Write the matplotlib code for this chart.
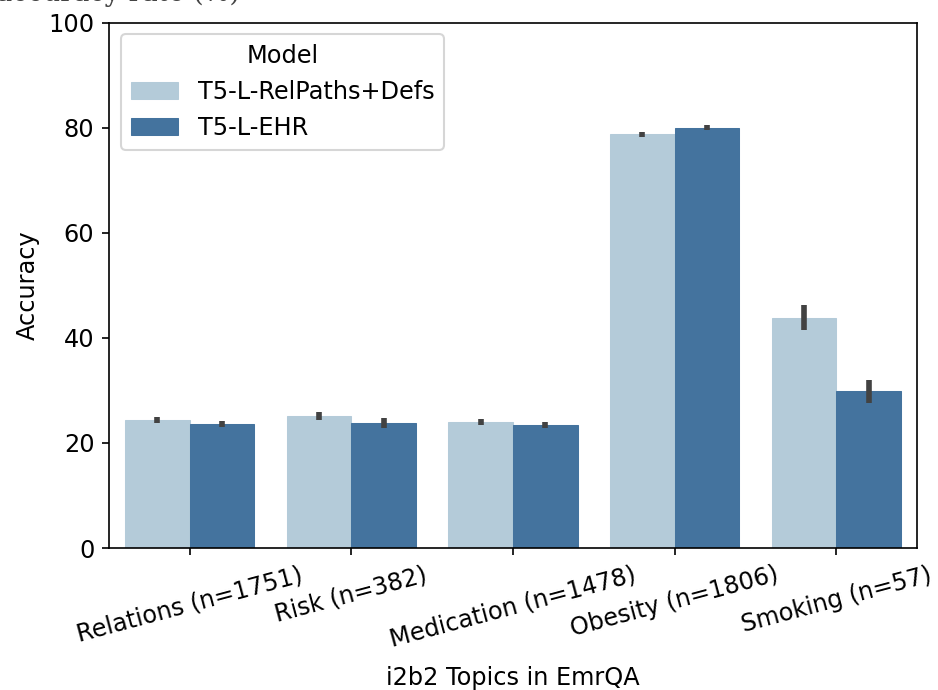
import matplotlib
matplotlib.use("Agg")
import matplotlib.pyplot as plt
import numpy as np

categories = ["Relations (n=1751)", "Risk (n=382)", "Medication (n=1478)", "Obesity (n=1806)", "Smoking (n=57)"]
models = ["T5-L-RelPaths+Defs", "T5-L-EHR"]
means = {
    "T5-L-RelPaths+Defs": [24.3, 25.1, 24.0, 78.7, 43.7],
    "T5-L-EHR": [23.6, 23.8, 23.4, 80.0, 29.8],
}
ci_low = {
    "T5-L-RelPaths+Defs": [23.7, 24.3, 23.5, 78.2, 41.4],
    "T5-L-EHR": [23.1, 22.9, 22.9, 79.5, 27.6],
}
ci_high = {
    "T5-L-RelPaths+Defs": [24.9, 25.9, 24.5, 79.2, 46.2],
    "T5-L-EHR": [24.1, 24.7, 23.9, 80.5, 31.9],
}
colors = ["#b4cbd9", "#44739e"]

FS = 11.5
fig = plt.figure(figsize=(938/150, 690/150), dpi=150)
ax = fig.add_axes([109/938, 1-548/690, (917-109)/938, (548-22.5)/690])

x = np.arange(len(categories))
w = 0.4
for i, m in enumerate(models):
    pos = x - w/2 + i*w
    mv = np.array(means[m])
    lo = mv - np.array(ci_low[m])
    hi = np.array(ci_high[m]) - mv
    ax.bar(pos, mv, width=w, color=colors[i], label=m, edgecolor=colors[i], linewidth=0.5, zorder=2)
    ax.errorbar(pos, mv, yerr=[lo, hi], fmt="none", ecolor="#424242", elinewidth=2.7, capsize=0, zorder=3)

ax.set_xlim(-0.5, len(categories) - 0.5)
ax.set_ylim(0, 100)
ax.set_yticks([0, 20, 40, 60, 80, 100])
ax.set_xticks(x)
ax.set_xticklabels(categories, rotation=15, fontsize=FS)
ax.tick_params(axis="y", labelsize=FS)
ax.set_ylabel("Accuracy", fontsize=FS)
ax.set_xlabel("i2b2 Topics in EmrQA", fontsize=FS, labelpad=7)
leg = ax.legend(title="Model", loc="upper left", fontsize=FS, title_fontsize=FS)

fig.text(240/938, 1-7/690, "accuracy rate (%)", fontsize=13, family="serif", color="#444444", va="bottom", ha="right")

fig.savefig("out.png", dpi=150)
